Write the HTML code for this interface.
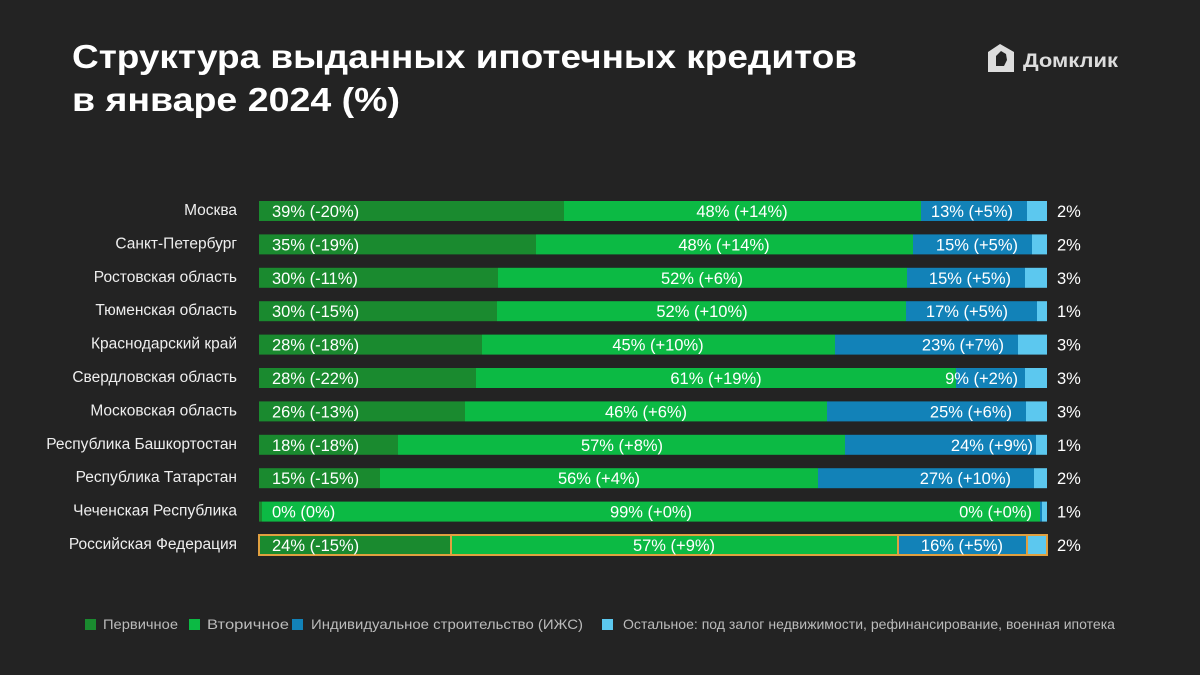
<!DOCTYPE html>
<html><head><meta charset="utf-8"><style>
html,body{margin:0;padding:0;background:#232323;}
svg{display:block;}
text{font-family:"Liberation Sans",sans-serif;}
</style></head><body>
<svg width="1200" height="675" viewBox="0 0 1200 675" xmlns="http://www.w3.org/2000/svg">
<rect width="1200" height="675" fill="#232323"/>
<text x="72" y="68" font-size="33" font-weight="bold" fill="#fff" textLength="785" lengthAdjust="spacingAndGlyphs">Структура выданных ипотечных кредитов</text>
<text x="72" y="111" font-size="33" font-weight="bold" fill="#fff" textLength="328" lengthAdjust="spacingAndGlyphs">в январе 2024 (%)</text>
<path d="M1000 44 L1014 52 L1014 72 L988 72 L988 52 Z M996 56 L996 66 L1004 66 L1007 60 L1006 54 L1001 51 Z" fill="#ddd" fill-rule="evenodd"/>
<text x="1023" y="67" font-size="19" font-weight="bold" fill="#ddd" textLength="95" lengthAdjust="spacingAndGlyphs">Домклик</text>
<g font-size="16.5" fill="#fff">
<g transform="translate(0,201)">
<text x="237" y="14" text-anchor="end" fill="#eee" font-size="15.5">Москва</text>
<rect x="259" y="0" width="305" height="20" fill="#1a8a2f"/><rect x="564" y="0" width="357" height="20" fill="#0cba44"/><rect x="921" y="0" width="106" height="20" fill="#1282b8"/><rect x="1027" y="0" width="20" height="20" fill="#5cc8ef"/>
<text x="272" y="16">39% (-20%)</text><text x="742" y="16" text-anchor="middle">48% (+14%)</text><text x="1013" y="16" text-anchor="end">13% (+5%)</text><text x="1057" y="16">2%</text></g>
<g transform="translate(0,234.4)">
<text x="237" y="14" text-anchor="end" fill="#eee" font-size="15.5">Санкт-Петербург</text>
<rect x="259" y="0" width="277" height="20" fill="#1a8a2f"/><rect x="536" y="0" width="377" height="20" fill="#0cba44"/><rect x="913" y="0" width="119" height="20" fill="#1282b8"/><rect x="1032" y="0" width="15" height="20" fill="#5cc8ef"/>
<text x="272" y="16">35% (-19%)</text><text x="724" y="16" text-anchor="middle">48% (+14%)</text><text x="1018" y="16" text-anchor="end">15% (+5%)</text><text x="1057" y="16">2%</text></g>
<g transform="translate(0,267.8)">
<text x="237" y="14" text-anchor="end" fill="#eee" font-size="15.5">Ростовская область</text>
<rect x="259" y="0" width="239" height="20" fill="#1a8a2f"/><rect x="498" y="0" width="409" height="20" fill="#0cba44"/><rect x="907" y="0" width="118" height="20" fill="#1282b8"/><rect x="1025" y="0" width="22" height="20" fill="#5cc8ef"/>
<text x="272" y="16">30% (-11%)</text><text x="702" y="16" text-anchor="middle">52% (+6%)</text><text x="1011" y="16" text-anchor="end">15% (+5%)</text><text x="1057" y="16">3%</text></g>
<g transform="translate(0,301.2)">
<text x="237" y="14" text-anchor="end" fill="#eee" font-size="15.5">Тюменская область</text>
<rect x="259" y="0" width="238" height="20" fill="#1a8a2f"/><rect x="497" y="0" width="409" height="20" fill="#0cba44"/><rect x="906" y="0" width="131" height="20" fill="#1282b8"/><rect x="1037" y="0" width="10" height="20" fill="#5cc8ef"/>
<text x="272" y="16">30% (-15%)</text><text x="702" y="16" text-anchor="middle">52% (+10%)</text><text x="1008" y="16" text-anchor="end">17% (+5%)</text><text x="1057" y="16">1%</text></g>
<g transform="translate(0,334.6)">
<text x="237" y="14" text-anchor="end" fill="#eee" font-size="15.5">Краснодарский край</text>
<rect x="259" y="0" width="223" height="20" fill="#1a8a2f"/><rect x="482" y="0" width="353" height="20" fill="#0cba44"/><rect x="835" y="0" width="183" height="20" fill="#1282b8"/><rect x="1018" y="0" width="29" height="20" fill="#5cc8ef"/>
<text x="272" y="16">28% (-18%)</text><text x="658" y="16" text-anchor="middle">45% (+10%)</text><text x="1004" y="16" text-anchor="end">23% (+7%)</text><text x="1057" y="16">3%</text></g>
<g transform="translate(0,368)">
<text x="237" y="14" text-anchor="end" fill="#eee" font-size="15.5">Свердловская область</text>
<rect x="259" y="0" width="217" height="20" fill="#1a8a2f"/><rect x="476" y="0" width="480" height="20" fill="#0cba44"/><rect x="956" y="0" width="69" height="20" fill="#1282b8"/><rect x="1025" y="0" width="22" height="20" fill="#5cc8ef"/>
<text x="272" y="16">28% (-22%)</text><text x="716" y="16" text-anchor="middle">61% (+19%)</text><text x="1018" y="16" text-anchor="end">9% (+2%)</text><text x="1057" y="16">3%</text></g>
<g transform="translate(0,401.4)">
<text x="237" y="14" text-anchor="end" fill="#eee" font-size="15.5">Московская область</text>
<rect x="259" y="0" width="206" height="20" fill="#1a8a2f"/><rect x="465" y="0" width="362" height="20" fill="#0cba44"/><rect x="827" y="0" width="199" height="20" fill="#1282b8"/><rect x="1026" y="0" width="21" height="20" fill="#5cc8ef"/>
<text x="272" y="16">26% (-13%)</text><text x="646" y="16" text-anchor="middle">46% (+6%)</text><text x="1012" y="16" text-anchor="end">25% (+6%)</text><text x="1057" y="16">3%</text></g>
<g transform="translate(0,434.8)">
<text x="237" y="14" text-anchor="end" fill="#eee" font-size="15.5">Республика Башкортостан</text>
<rect x="259" y="0" width="139" height="20" fill="#1a8a2f"/><rect x="398" y="0" width="447" height="20" fill="#0cba44"/><rect x="845" y="0" width="191" height="20" fill="#1282b8"/><rect x="1036" y="0" width="11" height="20" fill="#5cc8ef"/>
<text x="272" y="16">18% (-18%)</text><text x="622" y="16" text-anchor="middle">57% (+8%)</text><text x="1033" y="16" text-anchor="end">24% (+9%)</text><text x="1057" y="16">1%</text></g>
<g transform="translate(0,468.2)">
<text x="237" y="14" text-anchor="end" fill="#eee" font-size="15.5">Республика Татарстан</text>
<rect x="259" y="0" width="121" height="20" fill="#1a8a2f"/><rect x="380" y="0" width="438" height="20" fill="#0cba44"/><rect x="818" y="0" width="216" height="20" fill="#1282b8"/><rect x="1034" y="0" width="13" height="20" fill="#5cc8ef"/>
<text x="272" y="16">15% (-15%)</text><text x="599" y="16" text-anchor="middle">56% (+4%)</text><text x="1011" y="16" text-anchor="end">27% (+10%)</text><text x="1057" y="16">2%</text></g>
<g transform="translate(0,501.6)">
<text x="237" y="14" text-anchor="end" fill="#eee" font-size="15.5">Чеченская Республика</text>
<rect x="259" y="0" width="3" height="20" fill="#1a8a2f"/><rect x="262" y="0" width="778" height="20" fill="#0cba44"/><rect x="1040" y="0" width="2" height="20" fill="#1282b8"/><rect x="1042" y="0" width="5" height="20" fill="#5cc8ef"/>
<text x="272" y="16">0% (0%)</text><text x="651" y="16" text-anchor="middle">99% (+0%)</text><text x="1032" y="16" text-anchor="end">0% (+0%)</text><text x="1057" y="16">1%</text></g>
<g transform="translate(0,535)">
<text x="237" y="14" text-anchor="end" fill="#eee" font-size="15.5">Российская Федерация</text>
<rect x="259" y="0" width="192" height="20" fill="#1a8a2f"/><rect x="451" y="0" width="447" height="20" fill="#0cba44"/><rect x="898" y="0" width="129" height="20" fill="#1282b8"/><rect x="1027" y="0" width="20" height="20" fill="#5cc8ef"/>
<g fill="none" stroke="#e0a040" stroke-width="2"><rect x="259" y="0" width="788" height="20"/><line x1="451" y1="0" x2="451" y2="20"/><line x1="898" y1="0" x2="898" y2="20"/><line x1="1027" y1="0" x2="1027" y2="20"/></g>
<text x="272" y="16">24% (-15%)</text><text x="674" y="16" text-anchor="middle">57% (+9%)</text><text x="1003" y="16" text-anchor="end">16% (+5%)</text><text x="1057" y="16">2%</text></g>
</g>
<g font-size="14" fill="#bbb">
<rect x="85" y="619" width="11" height="11" fill="#1a8a2f"/><text x="103" y="629" textLength="75" lengthAdjust="spacingAndGlyphs">Первичное</text>
<rect x="189" y="619" width="11" height="11" fill="#0cba44"/><text x="207" y="629" textLength="82" lengthAdjust="spacingAndGlyphs">Вторичное</text>
<rect x="292" y="619" width="11" height="11" fill="#1282b8"/><text x="311" y="629" textLength="272" lengthAdjust="spacingAndGlyphs">Индивидуальное строительство (ИЖС)</text>
<rect x="602" y="619" width="11" height="11" fill="#5cc8ef"/><text x="623" y="629" textLength="492" lengthAdjust="spacingAndGlyphs">Остальное: под залог недвижимости, рефинансирование, военная ипотека</text>
</g>
</svg>
</body></html>
